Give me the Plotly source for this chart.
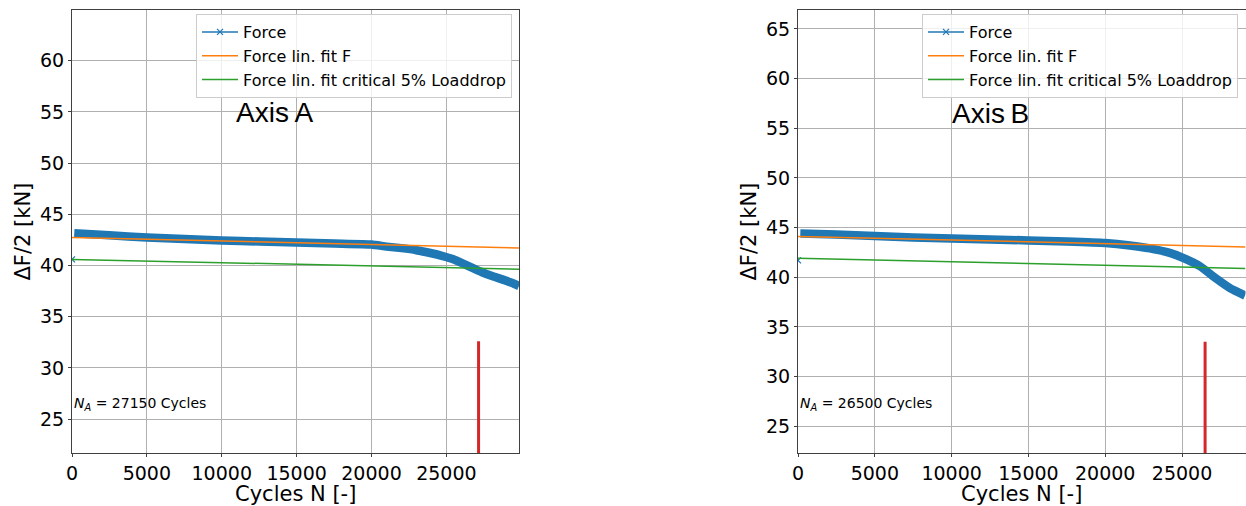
import plotly.graph_objects as go

# ---------------- data ----------------
# Axis A
cycles_a = [150, 2500, 5000, 7500, 10000, 12500, 15000, 17500, 20000, 21000, 22000,
            23000, 24000, 24700, 25500, 26040, 26700, 27380, 28000, 28725, 29400, 29850]
force_a = [43.15, 42.95, 42.75, 42.6, 42.45, 42.35, 42.25, 42.15, 42.05, 41.85, 41.7,
           41.5, 41.2, 40.95, 40.6, 40.25, 39.8, 39.35, 39.0, 38.65, 38.3, 38.0]
start_a = [0, 40.6]
fit_x_a = [0, 29850]
fit_a = [42.74, 41.72]
crit_a = [40.6, 39.65]
na_a = 27150
na_top_a = 32.6

# Axis B
cycles_b = [150, 2500, 5000, 7500, 10000, 12500, 15000, 17500, 20000, 21600, 22900,
            24200, 25060, 26170, 27140, 28120, 29100]
force_b = [44.4, 44.3, 44.15, 44.0, 43.9, 43.8, 43.7, 43.6, 43.45, 43.2, 42.9,
           42.45, 41.95, 41.1, 39.95, 38.9, 38.15]
start_b = [0, 41.7]
fit_x_b = [0, 29130]
fit_b = [44.1, 43.05]
crit_b = [41.9, 40.88]
na_b = 26500
na_top_b = 33.5

x_ticks = [0, 5000, 10000, 15000, 20000, 25000]
labels = ["Force", "Force lin. fit F", "Force lin. fit critical 5% Loaddrop"]
x_title = "Cycles N [-]"
y_title = "ΔF/2 [kN]"

BLUE, ORANGE, GREEN, RED = "#1f77b4", "#ff7f0e", "#2ca02c", "#d62728"
W, H = 1246, 506

fig = go.Figure()


def add_panel(xa, ya, leg, cx, fy, start, fx, fit, crit, na, na_top):
    # thick noisy force band
    fig.add_trace(go.Scatter(x=cx, y=fy, mode="lines",
                             line=dict(color=BLUE, width=8.5, shape="spline", smoothing=0.5),
                             xaxis=xa, yaxis=ya, showlegend=False, hoverinfo="skip"))
    fig.add_trace(go.Scatter(x=[start[0]], y=[start[1]], mode="markers",
                             marker=dict(symbol="x-thin", size=6, line=dict(color=BLUE, width=1.2)),
                             xaxis=xa, yaxis=ya, showlegend=False))
    # legend entry for Force
    fig.add_trace(go.Scatter(x=[None], y=[None], mode="lines+markers", name=labels[0],
                             line=dict(color=BLUE, width=1.5),
                             marker=dict(symbol="x-thin", size=6, line=dict(color=BLUE, width=1.2)),
                             xaxis=xa, yaxis=ya, legend=leg))
    fig.add_trace(go.Scatter(x=fx, y=fit, mode="lines", name=labels[1], line=dict(color=ORANGE, width=1.5),
                             xaxis=xa, yaxis=ya, legend=leg))
    fig.add_trace(go.Scatter(x=fx, y=crit, mode="lines", name=labels[2], line=dict(color=GREEN, width=1.5),
                             xaxis=xa, yaxis=ya, legend=leg))
    fig.add_trace(go.Scatter(x=[na, na], y=[0, na_top], mode="lines", line=dict(color=RED, width=3),
                             xaxis=xa, yaxis=ya, showlegend=False))


add_panel("x", "y", "legend", cycles_a, force_a, start_a, fit_x_a, fit_a, crit_a, na_a, na_top_a)
add_panel("x2", "y2", "legend2", cycles_b, force_b, start_b, fit_x_b, fit_b, crit_b, na_b, na_top_b)

tickfont = dict(family="DejaVu Sans", size=19, color="black")
titlefont = dict(family="DejaVu Sans", size=21, color="black")
common_ax = dict(showgrid=True, gridcolor="#b0b0b0", gridwidth=1, zeroline=False,
                 showline=True, linecolor="#404040", linewidth=1, mirror=True,
                 ticks="outside", ticklen=3, tickcolor="#404040", tickfont=tickfont,
                 automargin=False)
x_ax = dict(tickvals=x_ticks, tickformat="d", **common_ax)
y_ax = dict(dtick=5, **common_ax)

ydom = [1 - 453 / H, 1 - 10 / H]
leg_style = dict(yanchor="top", xanchor="right", bgcolor="rgba(255,255,255,0.8)",
                 bordercolor="#cccccc", borderwidth=1,
                 font=dict(family="DejaVu Sans", size=16, color="black"), itemwidth=36)
fig.update_layout(
    width=W, height=H, margin=dict(l=0, r=0, t=0, b=0, autoexpand=False),
    paper_bgcolor="white", plot_bgcolor="white",
    xaxis=dict(domain=[72 / W, 519 / W], range=[0, fit_x_a[1]], anchor="y", **x_ax),
    yaxis=dict(domain=ydom, range=[21.7, 64.95], anchor="x", **y_ax),
    xaxis2=dict(domain=[798 / W, 1245.5 / W], range=[0, fit_x_b[1]], anchor="y2", **x_ax),
    yaxis2=dict(domain=ydom, range=[22.3, 66.9], anchor="x2", **y_ax),
    legend=dict(x=512 / W, y=1 - 14 / H, **leg_style),
    legend2=dict(x=1238 / W, y=1 - 14 / H, **leg_style),
)

# axis titles
for cx in [(72 + 519) / 2, (798 + 1245.5) / 2]:
    fig.add_annotation(x=cx / W, y=1 - 494 / H, xref="paper", yref="paper", text=x_title,
                       showarrow=False, font=titlefont, xanchor="center", yanchor="middle")
for cx in [22, 748]:
    fig.add_annotation(x=cx / W, y=1 - 231.5 / H, xref="paper", yref="paper", text=y_title,
                       textangle=-90, showarrow=False, font=titlefont, xanchor="center", yanchor="middle")

fig.add_annotation(x=13556, y=54.9, xref="x", yref="y", text="Axis\u2009A", showarrow=False,
                   font=dict(family="Liberation Sans", size=28, color="black"))
fig.add_annotation(x=12498, y=56.53, xref="x2", yref="y2", text="Axis\u2009B", showarrow=False,
                   font=dict(family="Liberation Sans", size=28, color="black"))
fig.add_annotation(x=0, y=26.48, xref="x", yref="y", xanchor="left",
                   text=f"<i>N<sub>A</sub></i> = {na_a} Cycles", showarrow=False,
                   font=dict(family="DejaVu Sans", size=14, color="black"))
fig.add_annotation(x=0, y=27.23, xref="x2", yref="y2", xanchor="left",
                   text=f"<i>N<sub>A</sub></i> = {na_b} Cycles", showarrow=False,
                   font=dict(family="DejaVu Sans", size=14, color="black"))

fig.write_html("out.html")
